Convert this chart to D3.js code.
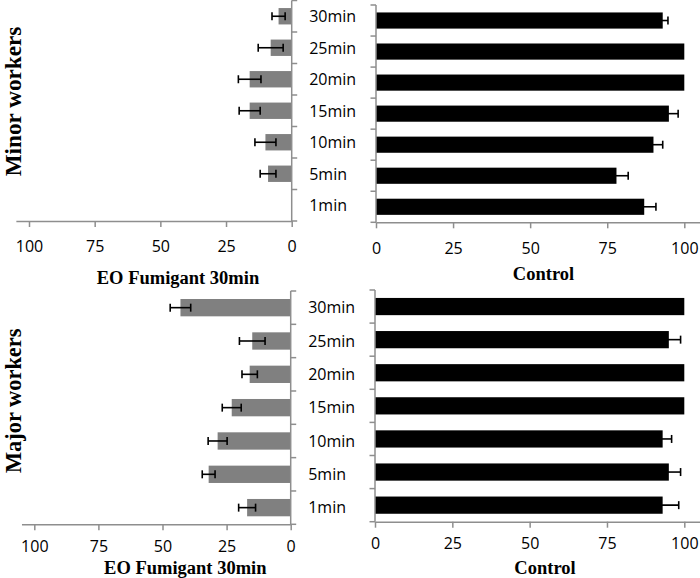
<!DOCTYPE html>
<html>
<head>
<meta charset="utf-8">
<script src="https://cdn.jsdelivr.net/npm/d3@7/dist/d3.min.js"></script>
<style>
  html, body { margin: 0; padding: 0; background: #fff; }
  svg { display: block; }
</style>
</head>
<body>
<svg id="chart" width="700" height="578"></svg>
<script>
// ---- data ----
const categories = ["30min", "25min", "20min", "15min", "10min", "5min", "1min"];
const xTicks = [0, 25, 50, 75, 100];

const minorEO      = [5, 8, 16, 16, 10, 9, 0];
const minorEOErr   = [2.5, 4.75, 4.3, 4, 4, 3, 0];
const minorCtrl    = [93, 100, 100, 95, 90, 78, 87];
const minorCtrlErr = [1.7, 0, 0, 3, 3, 3.8, 3.8];

const majorEO      = [43, 15, 16, 23, 28.5, 32, 17];
const majorEOErr   = [4, 5, 3, 3.7, 3.7, 2.5, 3.3];
const majorCtrl    = [100, 95, 100, 100, 93, 95, 93];
const majorCtrlErr = [0, 3.8, 0, 0, 2.9, 3.8, 5.2];

const groupLabels = ["Minor workers", "Major workers"];
const panelTitles = ["EO Fumigant 30min", "Control"];

// ---- layout ----
const svg = d3.select("#chart");
const axisColor = "#8e8e8e";
const sans = "'Open Sans', 'DejaVu Sans', sans-serif";
const serif = "'Liberation Serif', 'Times New Roman', serif";

const panels = [
  { values: minorEO,   errs: minorEOErr,   side: "left",  x0: 291.7, x100: 29,    y0: 0.5, y1: 221,   fill: "#808080", labelPad: 14, labels: true },
  { values: minorCtrl, errs: minorCtrlErr, side: "right", x0: 376,   x100: 684.3, y0: 5,   y1: 222.3, fill: "#000000", labelPad: 14, labels: false },
  { values: majorEO,   errs: majorEOErr,   side: "left",  x0: 290.7, x100: 34.3,  y0: 291, y1: 524.3, fill: "#808080", labelPad: 10, labels: true },
  { values: majorCtrl, errs: majorCtrlErr, side: "right", x0: 375,   x100: 684.3, y0: 290, y1: 521.7, fill: "#000000", labelPad: 10, labels: false }
];

panels.forEach(p => {
  const x = d3.scaleLinear().domain([0, 105])
    .range([p.x0, p.x0 + (p.x100 - p.x0) * 1.05]);
  const y = d3.scaleBand().domain(categories).range([p.y0, p.y1])
    .paddingInner(0.48).paddingOuter(0.24);
  const g = svg.append("g");

  // bars
  g.selectAll("rect.bar").data(categories).join("rect")
    .attr("class", "bar")
    .attr("x", (c, i) => Math.min(x(0), x(p.values[i])))
    .attr("width", (c, i) => Math.abs(x(p.values[i]) - x(0)))
    .attr("y", c => y(c))
    .attr("height", y.bandwidth())
    .attr("fill", p.fill);

  // error bars
  const eb = g.selectAll("g.err").data(categories.map((c, i) => ({ c, v: p.values[i], e: p.errs[i] })).filter(d => d.e > 0))
    .join("g").attr("class", "err")
    .attr("stroke", "#000").attr("stroke-width", 1.6).attr("fill", "none");
  eb.append("line")
    .attr("x1", d => x(d.v - d.e)).attr("x2", d => x(d.v + d.e))
    .attr("y1", d => y(d.c) + y.bandwidth() / 2).attr("y2", d => y(d.c) + y.bandwidth() / 2);
  [-1, 1].forEach(s => {
    eb.append("line")
      .attr("x1", d => x(d.v + s * d.e)).attr("x2", d => x(d.v + s * d.e))
      .attr("y1", d => y(d.c) + y.bandwidth() / 2 - 4).attr("y2", d => y(d.c) + y.bandwidth() / 2 + 4);
  });

  // x axis
  const xa = g.append("g").attr("transform", `translate(0,${p.y1})`)
    .call(d3.axisBottom(x).tickValues(xTicks).tickSize(6).tickSizeOuter(0).tickPadding(p.labelPad));
  xa.select(".domain").attr("stroke", axisColor).attr("stroke-width", 1.5);
  xa.selectAll(".tick line").attr("stroke", axisColor).attr("stroke-width", 1.5);
  xa.selectAll(".tick text").attr("font-family", sans).attr("font-size", 16).attr("fill", "#000");

  // y axis (vertical line + ticks at band boundaries)
  const ax = x(0);
  g.append("line").attr("x1", ax).attr("x2", ax).attr("y1", p.y0).attr("y2", p.y1)
    .attr("stroke", axisColor).attr("stroke-width", 1.5);
  const dir = p.side === "left" ? 1 : -1;
  const edges = d3.range(categories.length + 1).map(i => p.y0 + i * y.step());
  g.selectAll("line.ytick").data(edges).join("line").attr("class", "ytick")
    .attr("x1", ax).attr("x2", ax + dir * 5.5)
    .attr("y1", d => d).attr("y2", d => d)
    .attr("stroke", axisColor).attr("stroke-width", 1.5);

  if (p.labels) {
    g.selectAll("text.cat").data(categories).join("text").attr("class", "cat")
      .attr("x", ax + 17.5)
      .attr("y", c => y(c) + y.bandwidth() / 2)
      .attr("dy", "0.36em")
      .attr("font-family", sans).attr("font-size", 16).attr("fill", "#000")
      .text(c => c);
  }
});

// panel titles
const titleTxt = [
  { t: panelTitles[0], x: 178, y: 283.5 },
  { t: panelTitles[1], x: 543.5, y: 280 },
  { t: panelTitles[0], x: 185.3, y: 573.5 },
  { t: panelTitles[1], x: 545, y: 573.5 }
];
svg.selectAll("text.title").data(titleTxt).join("text").attr("class", "title")
  .attr("x", d => d.x).attr("y", d => d.y)
  .attr("text-anchor", "middle")
  .attr("font-family", serif).attr("font-weight", "bold").attr("font-size", 18.5)
  .attr("fill", "#000")
  .text(d => d.t);

// group labels (rotated)
const groupPos = [
  { t: groupLabels[0], x: 20.5, y: 101.5, s: 23.2 },
  { t: groupLabels[1], x: 20.5, y: 400.8, s: 22.4 }
];
svg.selectAll("text.group").data(groupPos).join("text").attr("class", "group")
  .attr("transform", d => `translate(${d.x},${d.y}) rotate(-90)`)
  .attr("text-anchor", "middle")
  .attr("font-family", serif).attr("font-weight", "bold").attr("font-size", d => d.s)
  .attr("fill", "#000")
  .text(d => d.t);
</script>
</body>
</html>
